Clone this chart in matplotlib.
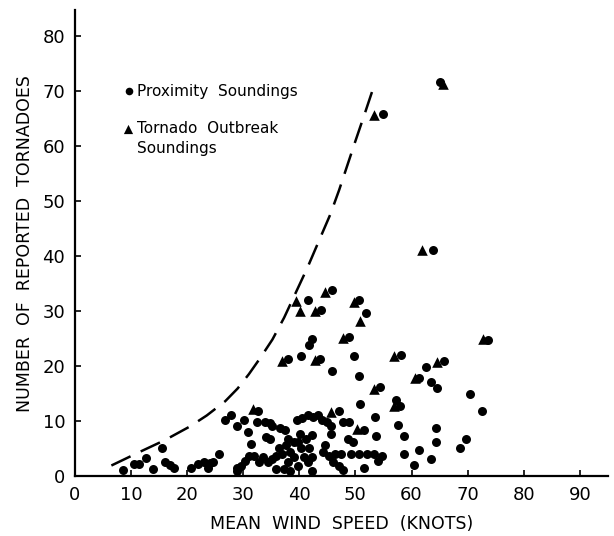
import numpy as np
import matplotlib.pyplot as plt

# outbreak soundings (triangles)
tri_x = [65.6, 53.3, 61.8, 44.6, 39.4, 40.1, 42.8, 49.7, 50.9, 47.7, 42.8, 36.9,
         56.9, 60.6, 64.6, 53.4, 56.9, 72.8, 31.7, 45.7, 50.2]
tri_y = [71.2, 65.6, 41.1, 33.5, 31.9, 30.0, 30.0, 31.7, 28.2, 25.1, 21.0, 20.9,
         21.8, 17.8, 20.7, 15.8, 12.8, 24.9, 12.1, 11.6, 8.5]

# proximity soundings (dots)
dot_x = [65.0, 54.9, 63.8, 45.8, 41.6, 43.9, 50.6, 51.8, 48.8, 42.2, 41.8, 43.6,
         40.3, 37.9, 45.9, 49.8, 50.6, 58.1, 61.4, 62.5, 65.8, 63.5, 64.6, 54.4,
         57.2, 57.9, 73.7, 70.4, 72.5, 50.9, 53.5, 57.6, 58.6, 64.4, 64.4, 53.7,
         69.8, 68.6, 61.4, 63.5, 60.5, 58.6, 51.6, 49.2, 50.6, 52.0, 53.4, 54.8,
         54.1, 47.1, 47.8, 48.8, 48.7, 49.5, 51.6,
         8.6, 10.6, 11.5, 12.7, 14.0, 15.6, 16.0, 17.0, 17.7, 20.7, 21.9, 23.0,
         24.0, 23.7, 24.7, 25.6, 26.8, 27.9, 28.9, 30.2, 30.8, 28.9, 28.9, 29.6,
         31.4, 32.6, 32.4, 33.8, 34.8, 34.1, 34.8, 35.2, 36.6, 37.5, 38.0, 39.0,
         39.7, 30.4, 31.0, 32.0, 32.8, 33.5, 34.5, 35.2, 35.9, 36.3, 37.0, 37.7,
         38.3, 38.0, 39.0, 39.8, 37.3, 35.8, 38.3, 40.3, 40.8, 41.5, 42.2, 42.2,
         41.8, 39.6, 40.5, 41.5, 42.5, 43.3, 44.0, 45.0, 45.7, 45.7, 44.6, 44.2,
         45.3, 46.4, 47.4, 46.0, 47.1, 47.8, 40.1, 41.2, 42.2]
dot_y = [71.6, 65.9, 41.0, 33.8, 32.0, 30.1, 32.0, 29.6, 25.2, 24.9, 23.8, 21.2,
         21.8, 21.2, 19.0, 21.8, 18.1, 22.0, 17.8, 19.8, 20.9, 17.0, 16.0, 16.1,
         13.9, 12.8, 24.8, 14.9, 11.8, 13.1, 10.8, 9.2, 7.2, 8.7, 6.1, 7.2,
         6.8, 5.0, 4.8, 3.0, 2.0, 4.0, 1.4, 4.0, 4.0, 4.0, 4.0, 3.7,
         2.8, 11.8, 9.9, 9.9, 6.8, 6.2, 8.4,
         1.1, 2.2, 2.2, 3.2, 1.2, 5.1, 2.5, 2.0, 1.5, 1.4, 2.2, 2.5,
         2.4, 1.4, 2.5, 4.0, 10.2, 11.1, 9.0, 10.2, 8.0, 1.5, 0.9, 1.9,
         5.9, 11.9, 9.9, 9.9, 9.6, 7.1, 6.8, 9.0, 8.7, 8.4, 6.8, 6.2,
         6.2, 2.8, 3.7, 3.7, 2.5, 3.4, 2.5, 3.1, 3.7, 5.0, 4.0, 5.6,
         4.3, 2.5, 3.4, 1.9, 1.2, 1.2, 0.9, 5.0, 3.4, 2.5, 0.9, 3.4,
         5.1, 10.2, 10.5, 11.1, 10.8, 11.1, 10.2, 9.9, 9.0, 7.7, 5.6, 4.3,
         3.7, 4.0, 4.0, 2.5, 1.9, 1.1, 7.7, 6.8, 7.4]

# upper envelope (dashed)
env_x = [6.5, 11.4, 16.0, 20.5, 23.5, 26.8, 29.0, 31.0, 33.0, 35.2, 37.3,
         39.4, 41.5, 43.6, 45.5, 47.1, 49.9, 51.8, 53.5]
env_y = [1.9, 4.3, 6.5, 9.0, 11.0, 13.6, 15.9, 18.5, 21.4, 24.8, 28.8,
         33.4, 38.0, 43.0, 47.5, 52.0, 60.6, 66.3, 71.5]

fig = plt.figure(figsize=(6.14, 5.36), dpi=100)
ax = fig.add_axes([0.122, 0.112, 0.868, 0.869])

ax.plot(env_x, env_y, color='black', lw=1.8, dashes=(8.5, 4.5))
ax.scatter(dot_x, dot_y, s=42, marker='o', color='black', linewidths=0, zorder=3)
ax.scatter(tri_x, tri_y, s=58, marker='^', color='black', linewidths=0, zorder=3)

# legend written into the plot
ax.scatter([9.7], [70.0], s=30, marker='o', color='black', linewidths=0)
ax.text(11.0, 70.0, 'Proximity  Soundings', fontsize=11, va='center')
ax.scatter([9.5], [63.1], s=44, marker='^', color='black', linewidths=0)
ax.text(11.0, 63.1, 'Tornado  Outbreak', fontsize=11, va='center')
ax.text(11.0, 59.6, 'Soundings', fontsize=11, va='center')

ax.set_xlim(0, 95)
ax.set_ylim(0, 84.7)
ax.set_xticks(np.arange(0, 100, 10))
ax.set_yticks(np.arange(0, 90, 10))
for s in ['top', 'right']:
    ax.spines[s].set_visible(False)
for s in ['left', 'bottom']:
    ax.spines[s].set_linewidth(1.6)
ax.tick_params(direction='in', length=4, width=1.2, labelsize=13, pad=7)

ax.set_xlabel('MEAN  WIND  SPEED  (KNOTS)', fontsize=12.5, labelpad=8)
ax.set_ylabel('NUMBER  OF  REPORTED  TORNADOES', fontsize=12.5, labelpad=6)

fig.savefig('out.png', dpi=100)
